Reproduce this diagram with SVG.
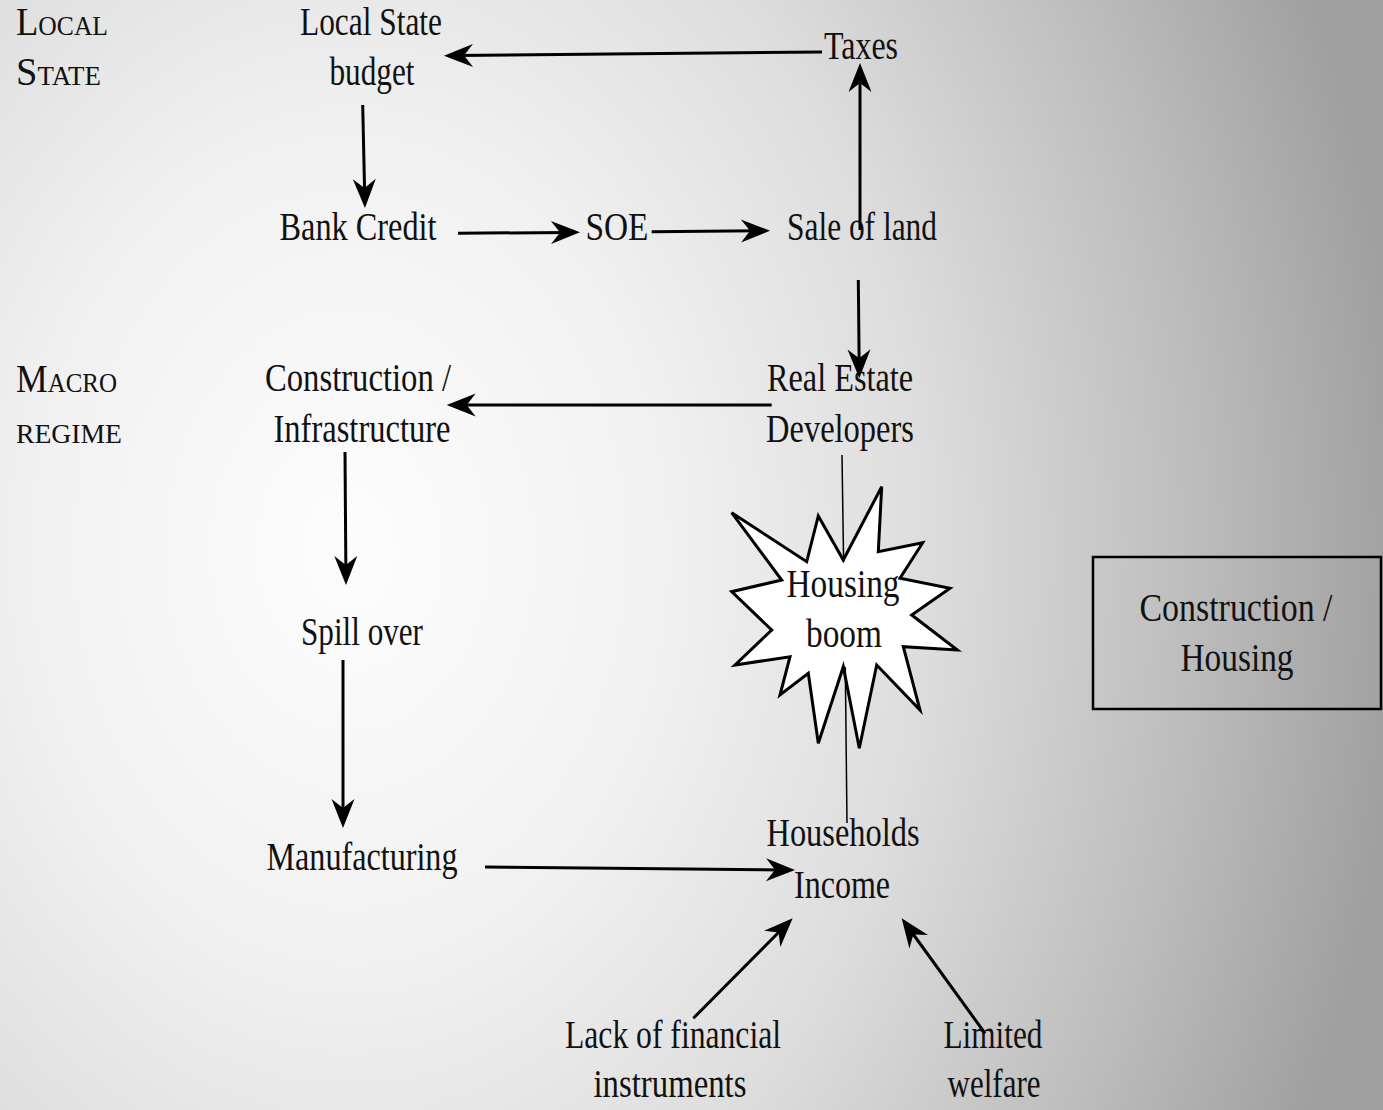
<svg xmlns="http://www.w3.org/2000/svg" width="1383" height="1110" viewBox="0 0 1383 1110">
  <defs>
    <radialGradient id="bg" gradientUnits="userSpaceOnUse" cx="350" cy="550" r="1050" gradientTransform="translate(350 550) scale(1 1.3) translate(-350 -550)">
      <stop offset="0" stop-color="#fdfdfd"/>
      <stop offset="0.3" stop-color="#f1f1f1"/>
      <stop offset="0.55" stop-color="#dddddd"/>
      <stop offset="0.8" stop-color="#bdbdbd"/>
      <stop offset="1" stop-color="#a0a0a0"/>
    </radialGradient>
    <marker id="ah" markerUnits="userSpaceOnUse" viewBox="-30 -12 31 24" refX="-12" refY="0" markerWidth="31" markerHeight="24" orient="auto">
      <path d="M0,0 L-29,-11.5 L-20,0 L-29,11.5 Z" fill="#000"/>
    </marker>
    <style>
      text { font-family: "Liberation Serif", "Times New Roman", serif; font-size: 40px; fill: #111; }
      .c { text-anchor: middle; }
      .sc { font-variant: small-caps; }
      .arr { stroke: #000; stroke-width: 3; fill: none; marker-end: url(#ah); }
      .thin { stroke: #000; stroke-width: 1.5; fill: none; }
    </style>
  </defs>
  <rect x="0" y="0" width="1383" height="1110" fill="url(#bg)"/>

  <g id="label-local-state">
    <text class="sc" x="16" y="35" textLength="92" lengthAdjust="spacingAndGlyphs">Local</text>
    <text class="sc" x="16" y="85" textLength="85" lengthAdjust="spacingAndGlyphs">State</text>
  </g>
  <g id="label-macro-regime">
    <text class="sc" x="16" y="392" textLength="101" lengthAdjust="spacingAndGlyphs">Macro</text>
    <text class="sc" x="16" y="443" textLength="106" lengthAdjust="spacingAndGlyphs">regime</text>
  </g>

  <g id="node-budget">
    <text class="c" x="371" y="35" textLength="142" lengthAdjust="spacingAndGlyphs">Local State</text>
    <text class="c" x="372" y="85" textLength="85" lengthAdjust="spacingAndGlyphs">budget</text>
  </g>
  <g id="node-taxes">
    <text class="c" x="861" y="59" textLength="74" lengthAdjust="spacingAndGlyphs">Taxes</text>
  </g>
  <g id="node-bank">
    <text class="c" x="358" y="240" textLength="157" lengthAdjust="spacingAndGlyphs">Bank Credit</text>
  </g>
  <g id="node-soe">
    <text class="c" x="617" y="240" textLength="63" lengthAdjust="spacingAndGlyphs">SOE</text>
  </g>
  <g id="node-sale">
    <text class="c" x="862" y="240" textLength="150" lengthAdjust="spacingAndGlyphs">Sale of land</text>
  </g>
  <g id="node-construction">
    <text class="c" x="358" y="391" textLength="186" lengthAdjust="spacingAndGlyphs">Construction /</text>
    <text class="c" x="362" y="442" textLength="177" lengthAdjust="spacingAndGlyphs">Infrastructure</text>
  </g>
  <g id="node-developers">
    <text class="c" x="840" y="391" textLength="146" lengthAdjust="spacingAndGlyphs">Real Estate</text>
    <text class="c" x="840" y="442" textLength="148" lengthAdjust="spacingAndGlyphs">Developers</text>
  </g>
  <g id="node-spill">
    <text class="c" x="362" y="645" textLength="122" lengthAdjust="spacingAndGlyphs">Spill over</text>
  </g>
  <g id="node-manufacturing">
    <text class="c" x="362" y="870" textLength="191" lengthAdjust="spacingAndGlyphs">Manufacturing</text>
  </g>
  <g id="node-households">
    <text class="c" x="843" y="846" textLength="153" lengthAdjust="spacingAndGlyphs">Households</text>
    <text class="c" x="842" y="898" textLength="96" lengthAdjust="spacingAndGlyphs">Income</text>
  </g>
  <g id="node-lack">
    <text class="c" x="673" y="1048" textLength="216" lengthAdjust="spacingAndGlyphs">Lack of financial</text>
    <text class="c" x="670" y="1097" textLength="153" lengthAdjust="spacingAndGlyphs">instruments</text>
  </g>
  <g id="node-welfare">
    <text class="c" x="993" y="1048" textLength="99" lengthAdjust="spacingAndGlyphs">Limited</text>
    <text class="c" x="994" y="1097" textLength="93" lengthAdjust="spacingAndGlyphs">welfare</text>
  </g>
  <g id="node-housing-box">
    <rect x="1093" y="557" width="288" height="152" fill="none" stroke="#000" stroke-width="2.5"/>
    <text class="c" x="1236" y="621" textLength="193" lengthAdjust="spacingAndGlyphs">Construction /</text>
    <text class="c" x="1237" y="671" textLength="113" lengthAdjust="spacingAndGlyphs">Housing</text>
  </g>
  <g id="node-boom">
    <polygon points="731.7,512.7 806.7,561.7 818.3,516 843.3,560 881.7,486.7 878.3,551.7 922.7,542.7 900,578.3 950,588.3 911.7,615 957.3,650 903.3,646.7 920,710 876.7,665 859.3,748.3 843.3,666.7 818.3,743.3 808.3,673.3 780,695 790,656.7 735,665 771.7,630 731.7,591.7 781.7,580" fill="#fff" stroke="#000" stroke-width="3" stroke-linejoin="miter"/>
  </g>

  <g id="connectors">
    <path class="thin" d="M842,455 L843.6,562 M845.3,667 L847,823"/>
    <line class="arr" x1="822" y1="52" x2="456" y2="55.6"/>
    <line class="arr" x1="362.7" y1="105" x2="364.7" y2="196"/>
    <line class="arr" x1="458" y1="233.3" x2="568" y2="232.4"/>
    <line class="arr" x1="651.7" y1="231.7" x2="758" y2="230.8"/>
    <line class="arr" x1="860" y1="230" x2="860" y2="75"/>
    <line class="arr" x1="858.3" y1="280" x2="859.2" y2="366.3"/>
    <line class="arr" x1="771.7" y1="405" x2="458.7" y2="405"/>
    <line class="arr" x1="345" y1="452" x2="345.9" y2="573"/>
    <line class="arr" x1="343" y1="660" x2="343" y2="816"/>
    <line class="arr" x1="485" y1="867" x2="783" y2="869.9"/>
    <line class="arr" x1="693.3" y1="1018.3" x2="784.2" y2="926.8"/>
    <line class="arr" x1="985" y1="1033.3" x2="908.7" y2="928"/>
  </g>

  <g id="node-boom-label">
    <text class="c" x="843" y="597" textLength="113" lengthAdjust="spacingAndGlyphs">Housing</text>
    <text class="c" x="844" y="647" textLength="76" lengthAdjust="spacingAndGlyphs">boom</text>
  </g>
</svg>
